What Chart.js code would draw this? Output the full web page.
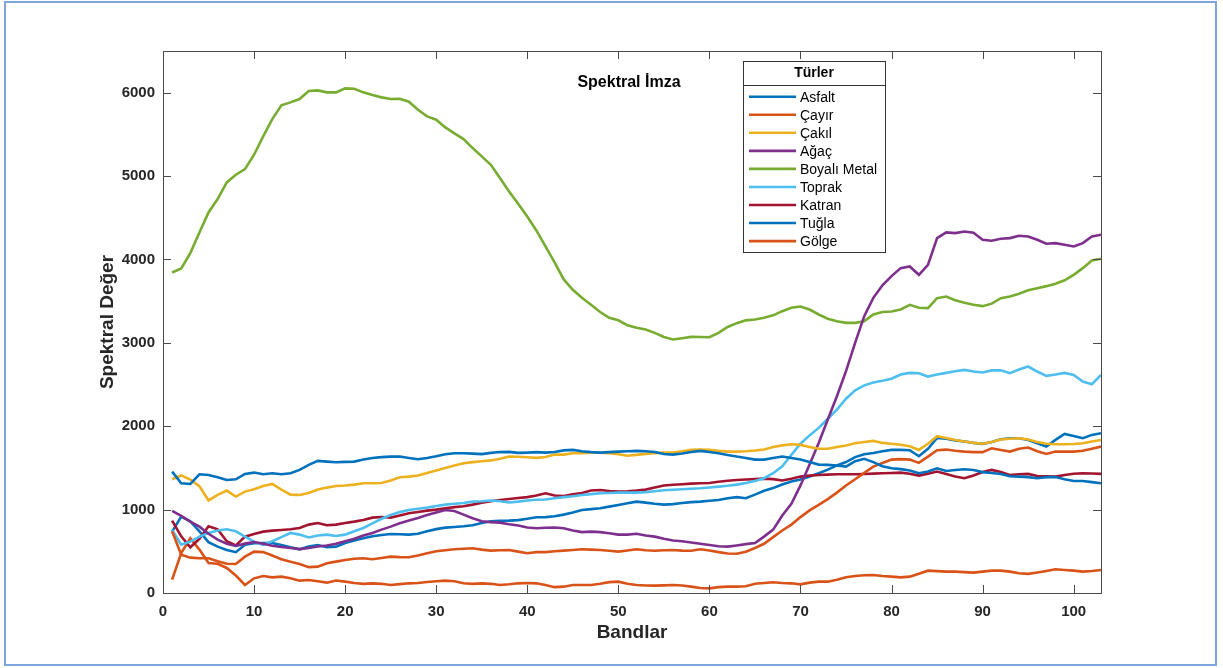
<!DOCTYPE html>
<html>
<head>
<meta charset="utf-8">
<script src="https://cdn.jsdelivr.net/npm/chart.js@4.4.0/dist/chart.umd.min.js"></script>
<style>
body { margin: 0; background: #fff; }
#wrap { position: relative; width: 1223px; height: 668px; }
#frame { position: absolute; left: 4px; top: 1px; width: 1209px; height: 661px; border: 2px solid #7ea6dc; }
canvas { position: absolute; left: 0; top: 0; }
</style>
</head>
<body>
<div id="wrap">
	<canvas id="spectra" width="1223" height="668"></canvas>
	<div id="frame"></div>
</div>
<script>
const bands = [1,2,3,4,5,6,7,8,9,10,11,12,13,14,15,16,17,18,19,20,21,22,23,24,25,26,27,28,29,30,
	31,32,33,34,35,36,37,38,39,40,41,42,43,44,45,46,47,48,49,50,51,52,53,54,55,56,57,58,59,60,
	61,62,63,64,65,66,67,68,69,70,71,72,73,74,75,76,77,78,79,80,81,82,83,84,85,86,87,88,89,90,
	91,92,93,94,95,96,97,98,99,100,101,102,103];

const xTicks = [0, 10, 20, 30, 40, 50, 60, 70, 80, 90, 100];
const yTicks = [0, 1000, 2000, 3000, 4000, 5000, 6000];

const names = ['Asfalt', 'Çayır', 'Çakıl', 'Ağaç', 'Boyalı Metal', 'Toprak', 'Katran', 'Tuğla', 'Gölge'];
const colors = ['#0072BD', '#D95319', '#EDB120', '#7E2F8E', '#77AC30', '#4DBEEE', '#A2142F', '#0072BD', '#D95319'];

const asfalt = [1456,1316,1308,1424,1416,1388,1356,1364,1428,1444,
	1424,1436,1424,1436,1476,1536,1584,1576,1568,1572,
	1576,1600,1620,1630,1636,1636,1620,1604,1620,1640,
	1664,1676,1676,1672,1666,1680,1690,1692,1680,1684,
	1690,1684,1690,1710,1716,1700,1690,1684,1690,1696,
	1700,1704,1700,1690,1666,1660,1672,1690,1704,1690,
	1676,1656,1636,1620,1600,1600,1620,1636,1620,1600,
	1570,1540,1536,1530,1516,1580,1610,1570,1520,1496,
	1486,1470,1436,1456,1496,1464,1476,1484,1476,1450,
	1440,1428,1400,1396,1390,1376,1390,1390,1364,1344,
	1344,1330,1316];

const cayir = [740,460,424,416,416,380,350,348,436,496,
	490,450,404,376,348,310,316,356,376,396,
	410,416,404,420,436,430,428,450,476,500,
	512,524,530,536,520,508,512,516,496,476,
	490,490,500,508,516,524,520,516,506,496,
	510,524,512,506,512,516,508,506,524,510,
	490,474,470,496,540,590,670,750,820,910,
	990,1056,1126,1204,1290,1364,1440,1516,1560,1600,
	1606,1600,1560,1636,1712,1720,1706,1696,1690,1690,
	1736,1716,1696,1730,1744,1700,1668,1696,1696,1696,
	1706,1730,1756];

const cakil = [1364,1410,1360,1280,1110,1176,1228,1156,1216,1244,
	1284,1308,1240,1180,1176,1200,1240,1264,1284,1290,
	1300,1316,1316,1320,1350,1388,1396,1408,1440,1470,
	1500,1530,1556,1570,1580,1590,1610,1636,1634,1628,
	1620,1630,1660,1660,1676,1678,1682,1684,1676,1664,
	1646,1656,1668,1678,1684,1684,1700,1716,1720,1716,
	1704,1696,1696,1700,1708,1720,1750,1770,1784,1776,
	1750,1730,1730,1750,1770,1796,1810,1824,1800,1790,
	1778,1760,1716,1790,1880,1860,1836,1816,1800,1790,
	1810,1840,1850,1856,1840,1810,1790,1784,1784,1786,
	1796,1816,1836];

const agac = [984,924,856,796,710,640,590,564,592,612,
	590,566,552,540,526,540,558,570,590,622,
	650,690,720,760,796,836,870,900,936,966,
	996,984,940,896,860,850,844,825,810,786,
	776,782,786,776,750,730,736,730,716,700,
	700,710,690,676,650,630,620,606,590,576,
	560,556,570,586,600,676,760,930,1070,1290,
	1540,1800,2080,2360,2660,3000,3320,3540,3690,3800,
	3896,3916,3816,3936,4256,4324,4316,4336,4320,4236,
	4224,4248,4256,4284,4276,4236,4188,4196,4176,4156,
	4196,4276,4296];

const boyaliMetal = [3844,3892,4076,4324,4564,4724,4924,5016,5084,5256,
	5476,5684,5848,5884,5924,6020,6028,6004,6004,6052,
	6048,6004,5972,5944,5924,5928,5892,5796,5716,5676,
	5584,5512,5444,5336,5236,5136,4976,4816,4668,4516,
	4348,4156,3964,3760,3636,3540,3456,3370,3300,3270,
	3210,3180,3160,3120,3070,3040,3056,3072,3070,3068,
	3120,3190,3236,3270,3280,3300,3330,3380,3420,3436,
	3400,3340,3290,3260,3240,3240,3260,3340,3370,3376,
	3400,3456,3420,3416,3536,3556,3510,3480,3456,3440,
	3470,3536,3556,3590,3630,3656,3680,3710,3750,3816,
	3896,3988,4008];

const toprak = [756,580,616,676,720,750,764,740,676,616,
	576,620,670,720,700,666,690,700,684,700,
	740,780,836,890,936,970,996,1010,1024,1044,
	1060,1070,1080,1096,1100,1110,1100,1086,1096,1110,
	1118,1122,1136,1150,1160,1176,1186,1196,1200,1204,
	1204,1204,1210,1220,1232,1238,1244,1250,1256,1266,
	1276,1286,1300,1320,1344,1376,1436,1520,1656,1790,
	1890,1980,2090,2200,2330,2430,2490,2524,2545,2570,
	2620,2640,2636,2596,2620,2640,2660,2676,2656,2644,
	2670,2670,2636,2680,2716,2656,2604,2620,2640,2616,
	2536,2504,2616];

const katran = [868,680,548,650,800,764,620,570,676,708,
	736,748,756,764,780,820,840,812,820,840,
	856,876,904,912,904,930,956,972,988,1000,
	1016,1030,1040,1060,1084,1100,1116,1128,1140,1150,
	1170,1196,1170,1164,1184,1200,1230,1236,1224,1216,
	1220,1228,1240,1264,1290,1298,1304,1312,1316,1320,
	1334,1346,1356,1362,1366,1372,1366,1350,1370,1396,
	1408,1416,1420,1424,1424,1424,1428,1432,1436,1440,
	1444,1430,1408,1430,1456,1426,1396,1376,1410,1450,
	1476,1450,1416,1424,1428,1404,1400,1396,1416,1430,
	1436,1434,1428];

const tugla = [736,916,860,740,610,556,516,490,580,596,
	600,600,576,548,524,556,576,548,556,600,
	630,656,680,696,708,704,700,710,740,766,
	784,792,800,812,840,860,866,868,874,890,
	908,910,920,940,966,996,1006,1016,1036,1056,
	1076,1096,1084,1070,1060,1066,1080,1090,1096,1106,
	1116,1136,1150,1136,1180,1226,1260,1300,1336,1360,
	1396,1436,1480,1530,1570,1630,1664,1680,1700,1716,
	1716,1712,1640,1730,1860,1850,1830,1816,1800,1788,
	1810,1844,1856,1856,1836,1796,1756,1836,1908,1884,
	1856,1896,1916];

const golge = [160,480,656,520,360,350,300,210,96,176,
	204,188,196,176,148,156,140,124,150,136,
	120,110,116,110,96,106,116,120,132,140,
	148,140,116,110,116,110,96,104,116,120,
	116,96,70,76,96,96,96,110,130,136,
	110,96,90,88,92,96,90,76,60,56,
	70,76,76,80,110,120,128,120,116,104,
	124,136,136,160,190,204,212,216,204,196,
	188,196,230,268,262,256,256,250,244,256,
	268,268,256,236,230,246,264,284,276,268,
	256,264,276];

const seriesValues = [asfalt, cayir, cakil, agac, boyaliMetal, toprak, katran, tugla, golge];

const FONT = '"Liberation Sans", Arial, Helvetica, sans-serif';
const INK = '#262626';

function makeDataset(i) {
	return {
		label: names[i],
		data: bands.map((b, k) => ({x: b, y: seriesValues[i][k]})),
		borderColor: colors[i],
		backgroundColor: colors[i],
		borderWidth: 2.6,
		pointRadius: 0,
		tension: 0,
		fill: false
	};
}

// box, inward ticks, title and legend inside the axes (MATLAB look)
const axesDecor = {
	id: 'axesDecor',
	afterDatasetsDraw(chart) {
		const ctx = chart.ctx;
		const a = chart.chartArea;
		const sx = chart.scales.x;
		const sy = chart.scales.y;
		ctx.save();
		ctx.strokeStyle = '#4a4a4a';
		ctx.lineWidth = 1;
		ctx.strokeRect(Math.round(a.left) + 0.5, Math.round(a.top) + 0.5, Math.round(a.width), Math.round(a.height));
		ctx.beginPath();
		xTicks.forEach(v => {
			let px = Math.round(sx.getPixelForValue(v)) + 0.5;
			ctx.moveTo(px, a.bottom); ctx.lineTo(px, a.bottom - 8);
			ctx.moveTo(px, a.top); ctx.lineTo(px, a.top + 8);
		});
		yTicks.forEach(v => {
			let py = Math.round(sy.getPixelForValue(v)) + 0.5;
			ctx.moveTo(a.left, py); ctx.lineTo(a.left + 8, py);
			ctx.moveTo(a.right, py); ctx.lineTo(a.right - 8, py);
		});
		ctx.stroke();

		ctx.fillStyle = '#000';
		ctx.font = 'bold 16px ' + FONT;
		ctx.textAlign = 'center';
		ctx.textBaseline = 'middle';
		ctx.fillText('Spektral İmza', (a.left + a.right) / 2 - 3, a.top + 32);

		// legend
		let lx = 743, ly = 61, lw = 142, lh = 191;
		ctx.fillStyle = '#fff';
		ctx.fillRect(lx, ly, lw, lh);
		ctx.strokeStyle = '#333';
		ctx.strokeRect(lx + 0.5, ly + 0.5, lw, lh);
		ctx.beginPath();
		ctx.moveTo(lx, ly + 24.5); ctx.lineTo(lx + lw, ly + 24.5);
		ctx.stroke();
		ctx.fillStyle = '#000';
		ctx.font = 'bold 14px ' + FONT;
		ctx.fillText('Türler', lx + lw / 2, ly + 12);
		ctx.font = '14px ' + FONT;
		ctx.textAlign = 'left';
		chart.data.datasets.forEach((ds, i) => {
			let yy = 96.7 + i * 18.05;
			ctx.strokeStyle = ds.borderColor;
			ctx.lineWidth = 2.6;
			ctx.beginPath();
			ctx.moveTo(749, yy); ctx.lineTo(796, yy);
			ctx.stroke();
			ctx.fillStyle = '#000';
			ctx.fillText(ds.label, 800, yy + 1);
		});
		ctx.restore();
	}
};

document.addEventListener('DOMContentLoaded', () => {
	let context = document.getElementById('spectra').getContext('2d');

	let xScaleConfig = {
		type: 'linear',
		min: 0,
		max: 103,
		afterBuildTicks: s => { s.ticks = xTicks.map(v => ({value: v})); },
		afterFit: s => { s.height = 75; },
		grid: {display: false, drawTicks: false},
		border: {display: false},
		ticks: {color: INK, padding: 10, callback: v => String(v), font: {family: FONT, size: 15, weight: 'bold'}},
		title: {display: true, text: 'Bandlar', color: INK, padding: {top: 0, bottom: 24}, font: {family: FONT, size: 19, weight: 'bold'}}
	};

	let yScaleConfig = {
		type: 'linear',
		min: 0,
		max: 6500,
		afterBuildTicks: s => { s.ticks = yTicks.map(v => ({value: v})); },
		afterFit: s => { s.width = 163; },
		grid: {display: false, drawTicks: false},
		border: {display: false},
		ticks: {color: INK, padding: 8, callback: v => String(v), font: {family: FONT, size: 15, weight: 'bold'}},
		title: {display: true, text: 'Spektral Değer', color: INK, padding: {top: 96, bottom: 0}, font: {family: FONT, size: 19, weight: 'bold'}}
	};

	let config = {
		type: 'line',
		data: {datasets: names.map((n, i) => makeDataset(i))},
		options: {
			responsive: false,
			animation: false,
			layout: {padding: {top: 51, right: 122, left: 0, bottom: 0}},
			plugins: {legend: {display: false}, tooltip: {enabled: false}},
			scales: {x: xScaleConfig, y: yScaleConfig}
		},
		plugins: [axesDecor]
	};

	new Chart(context, config);
});
</script>
</body>
</html>
